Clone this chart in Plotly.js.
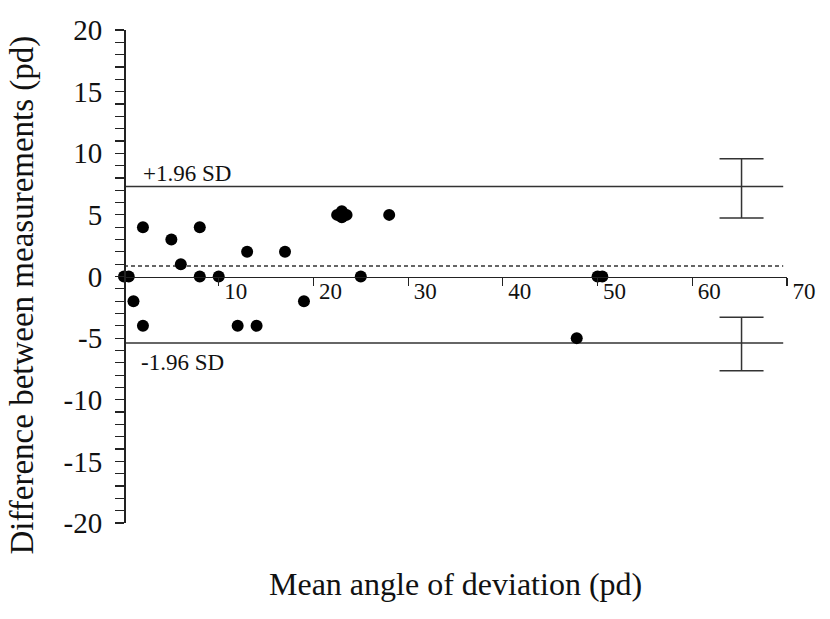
<!DOCTYPE html>
<html>
<head>
<meta charset="utf-8">
<script src="https://cdn.plot.ly/plotly-3.0.1.min.js"></script>
<style>html,body{margin:0;padding:0;background:#fff;}#chart{width:830px;height:619px;}</style>
</head>
<body>
<div id="chart"></div>
<script>
// Bland-Altman data: mean angle of deviation (pd) vs difference (pd)
const meanAngle = [0, 0.5, 1, 2, 2, 5, 6, 8, 8, 10, 12, 13, 14, 17, 19, 22.5, 23, 23, 23.5, 25, 28, 47.8, 50, 50.5];
const difference = [0, 0, -2, 4, -4, 3, 1, 4, 0, 0, -4, 2, -4, 2, -2, 5, 5.3, 4.8, 5, 0, 5, -5, 0, 0];

const limitX = [0, 69.6];
const upperLoA = 7.3;
const meanDiff = 0.85;
const lowerLoA = -5.4;

// confidence intervals of the limits of agreement
const ciX = [65.2, 65.2];
const ciY = [7.3, -5.4];
const ciPlus = [2.25, 2.1];
const ciMinus = [2.55, 2.25];

// tick labels
const xTickVals = [10, 20, 30, 40, 50, 60, 70];
const xTickText = ['10', '20', '30', '40', '50', '60', '70'];
const yTickVals = [-20, -15, -10, -5, 0, 5, 10, 15, 20];
const yTickText = ['-20', '-15', '-10', '-5', '0', '5', '10', '15', '20'];

const lineColor = '#333';
const font = '"Liberation Serif", "Times New Roman", serif';

const traces = [
  {x: limitX, y: [upperLoA, upperLoA], mode: 'lines', line: {color: lineColor, width: 1.5}, hoverinfo: 'skip'},
  {x: limitX, y: [lowerLoA, lowerLoA], mode: 'lines', line: {color: lineColor, width: 1.5}, hoverinfo: 'skip'},
  {x: limitX, y: [meanDiff, meanDiff], mode: 'lines', line: {color: lineColor, width: 1.3, dash: '4px,3px'}, hoverinfo: 'skip'},
  {x: ciX, y: ciY, mode: 'markers', marker: {size: 0.1, color: lineColor},
   error_y: {type: 'data', array: ciPlus, arrayminus: ciMinus, symmetric: false, color: lineColor, thickness: 1.5, width: 22}},
  {x: meanAngle, y: difference, mode: 'markers', marker: {color: '#000', size: 12}, cliponaxis: false}
];

const layout = {
  width: 830, height: 619,
  margin: {l: 123.5, r: 43.3, t: 30, b: 96},
  paper_bgcolor: '#fff', plot_bgcolor: '#fff',
  showlegend: false,
  font: {family: font, size: 24, color: '#111'},
  xaxis: {
    range: [0, 70], anchor: 'free', position: 0.5,
    tickvals: xTickVals, ticktext: xTickText,
    ticks: 'outside', ticklen: 8, tickwidth: 1.2, tickcolor: '#222',
    showline: true, linecolor: '#222', linewidth: 1.5,
    showgrid: false, zeroline: false,
    ticklabelshift: 17, ticklabelstandoff: -15,
    tickfont: {family: font, size: 23, color: '#111'}
  },
  yaxis: {
    range: [-20, 20], anchor: 'free', position: 0,
    tickvals: yTickVals, ticktext: yTickText,
    ticks: 'outside', ticklen: 9, tickwidth: 1.2, tickcolor: '#222',
    minor: {dtick: 1, ticks: 'outside', ticklen: 9, tickwidth: 1.2, tickcolor: '#222'},
    showline: true, linecolor: '#222', linewidth: 1.5,
    showgrid: false, zeroline: false,
    ticklabelstandoff: 7,
    tickfont: {family: font, size: 29, color: '#111'}
  },
  annotations: [
    {xref: 'paper', yref: 'paper', x: 0.5, y: -0.084, xanchor: 'center', yanchor: 'top', showarrow: false,
     text: 'Mean angle of deviation (pd)', font: {family: font, size: 32, color: '#111'}},
    {xref: 'paper', yref: 'paper', x: -0.153, y: 0.4625, xanchor: 'center', yanchor: 'middle', showarrow: false, textangle: -90,
     text: 'Difference between measurements (pd)', font: {family: font, size: 33, color: '#111'}},
    {xref: 'x', yref: 'y', x: 1.8, y: 8.35, xanchor: 'left', yanchor: 'middle', showarrow: false,
     text: '+1.96 SD', font: {family: font, size: 23, color: '#111'}},
    {xref: 'x', yref: 'y', x: 1.6, y: -6.97, xanchor: 'left', yanchor: 'middle', showarrow: false,
     text: '-1.96 SD', font: {family: font, size: 23, color: '#111'}}
  ]
};

Plotly.newPlot('chart', traces, layout, {displayModeBar: false, staticPlot: true});
</script>
</body>
</html>
